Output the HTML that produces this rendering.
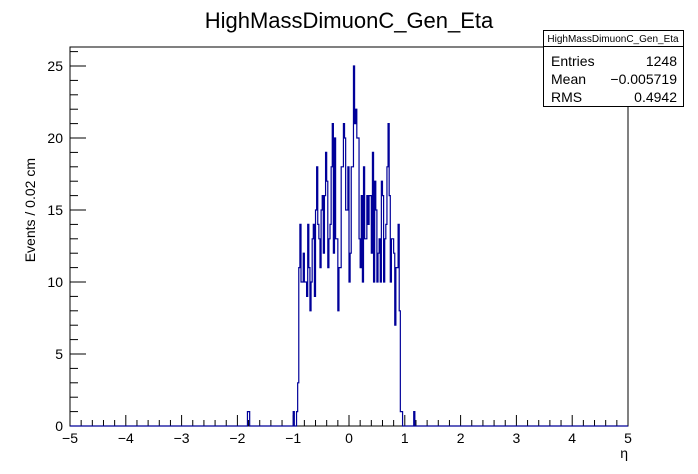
<!DOCTYPE html>
<html><head><meta charset="utf-8"><style>
body{margin:0;background:#fff;}
svg{display:block;font-family:"Liberation Sans",sans-serif;}
</style></head><body>
<svg id="c" width="698" height="474" viewBox="0 0 698 474">
<rect x="0" y="0" width="698" height="474" fill="#fff"/>
<text x="349" y="28" font-size="22" text-anchor="middle">HighMassDimuonC_Gen_Eta</text>
<rect x="70" y="47" width="558" height="379" fill="none" stroke="#000" stroke-width="1"/>
<g id="axes"></g>
<path id="hist" fill="none" stroke="#000099" stroke-width="1.2"/>
<text x="628" y="458" font-size="14" text-anchor="end">η</text>
<text transform="translate(35,158) rotate(-90)" font-size="14" text-anchor="end">Events / 0.02 cm</text>
<g>
<rect x="543.5" y="30.5" width="140" height="76" fill="#fff" stroke="#000"/>
<line x1="543.5" y1="46.5" x2="683.5" y2="46.5" stroke="#000"/>
<text x="613" y="42" font-size="10" text-anchor="middle">HighMassDimuonC_Gen_Eta</text>
<text x="551" y="66" font-size="14">Entries</text><text x="677" y="66" font-size="14" text-anchor="end">1248</text>
<text x="551" y="84" font-size="14">Mean</text><text x="677" y="84" font-size="14" text-anchor="end">−0.005719</text>
<text x="551" y="102" font-size="14">RMS</text><text x="677" y="102" font-size="14" text-anchor="end">0.4942</text>
</g>
</svg>
<script>
const binLow = -5, binWidth = 0.02, nBins = 500;
const startEta = -0.94;
const counts = [1,3,11,14,10,10,12,10,10,9,14,11,8,10,13,14,9,15,18,14,13,11,15,16,12,16,19,17,11,13,14,18,21,12,20,13,13,8,11,11,18,18,21,20,15,15,18,10,12,18,18,25,21,22,20,20,13,11,16,10,18,13,13,16,14,16,16,12,19,10,17,15,10,12,13,10,17,16,10,13,14,18,21,16,10,13,13,12,7,11,11,14,8,1,1];
const extraEtas = [-1.00,-1.82,-1.80,1.16];
const extraCounts = [1,1,1,1];
const xTicks = [-5,-4,-3,-2,-1,0,1,2,3,4,5];
const yTicks = [0,5,10,15,20,25];
const NS="http://www.w3.org/2000/svg";
const X0=70,X1=628,Y0=426,Y1=47,YMAX=26.32;
function xs(v){return X0+(v+5)/10*(X1-X0);}
function ys(v){return Y0-v/YMAX*(Y0-Y1);}
const vals=new Array(nBins).fill(0);
function idx(e){return Math.round((e-binLow)/binWidth);}
counts.forEach((c,i)=>{vals[idx(startEta+i*binWidth)]=c;});
extraEtas.forEach((e,i)=>{vals[idx(e)]=extraCounts[i];});
let d="M"+xs(binLow)+","+ys(0);
for(let i=0;i<nBins;i++){const a=binLow+i*binWidth;d+=" L"+xs(a)+","+ys(vals[i])+" L"+xs(a+binWidth)+","+ys(vals[i]);}
document.getElementById('hist').setAttribute('d',d);
const g=document.getElementById('axes');
function line(x1,y1,x2,y2,name){const l=document.createElementNS(NS,'line');l.setAttribute('x1',x1);l.setAttribute('y1',y1);l.setAttribute('x2',x2);l.setAttribute('y2',y2);l.setAttribute('stroke','#000');


g.appendChild(l);}
function text(x,y,s,anchor,name){const t=document.createElementNS(NS,'text');t.setAttribute('x',x);t.setAttribute('y',y);t.setAttribute('font-size','14');t.setAttribute('text-anchor',anchor);t.textContent=s;


g.appendChild(t);}
for(let v=-5;v<=5.001;v+=0.2){const x=xs(v);const major=Math.abs(v-Math.round(v))<1e-6;line(x,Y0,x,Y0-(major?11:6),'x-tick');}
xTicks.forEach(v=>text(xs(v),443,v<0?'−'+Math.abs(v):String(v),'middle','x-tick-label'));
for(let v=0;v<=26;v++){const y=ys(v);line(X0,y,X0+(v%5==0?16:8),y,'y-tick');}
yTicks.forEach(v=>text(63,ys(v)+5,String(v),'end','y-tick-label'));
</script>
</body></html>
